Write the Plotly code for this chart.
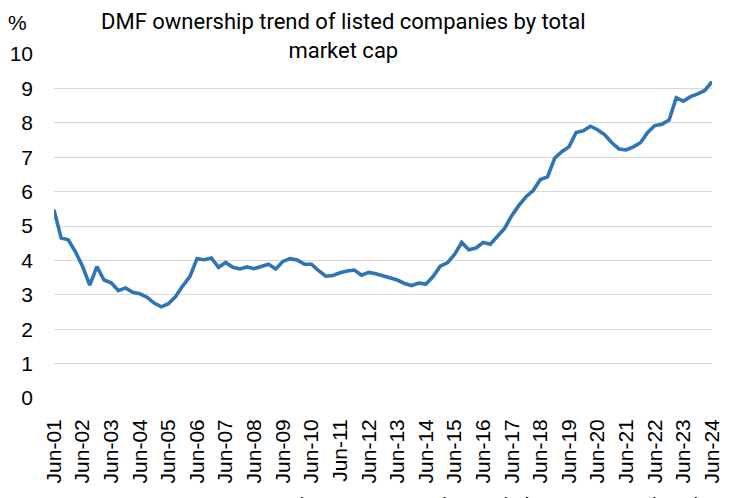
import plotly.graph_objects as go

months = ["Jun", "Sep", "Dec", "Mar"]
quarters = []
for yr in range(1, 25):
    for m in months:
        y = yr + 1 if m == "Mar" else yr
        quarters.append(f"{m}-{y:02d}")
quarters = quarters[:93]

ownership = [5.47, 4.65, 4.6, 4.25, 3.82, 3.28, 3.82, 3.43, 3.35, 3.12, 3.2, 3.07,
             3.03, 2.93, 2.76, 2.65, 2.74, 2.95, 3.26, 3.53, 4.05, 4.02, 4.07, 3.8,
             3.94, 3.8, 3.75, 3.81, 3.76, 3.83, 3.89, 3.75, 3.97, 4.05, 4.01, 3.89,
             3.89, 3.7, 3.54, 3.56, 3.64, 3.69, 3.72, 3.57, 3.65, 3.61, 3.55, 3.49,
             3.43, 3.33, 3.27, 3.34, 3.31, 3.53, 3.83, 3.93, 4.17, 4.52, 4.31, 4.36,
             4.52, 4.47, 4.71, 4.93, 5.3, 5.6, 5.85, 6.03, 6.35, 6.43, 6.97, 7.16,
             7.3, 7.72, 7.77, 7.9, 7.8, 7.65, 7.42, 7.24, 7.21, 7.3, 7.42, 7.72,
             7.92, 7.96, 8.08, 8.73, 8.63, 8.76, 8.84, 8.94, 9.2]

tick_labels = [q for q in quarters if q.startswith("Jun")]
y_ticks = list(range(0, 11))

title_text = "DMF ownership trend of listed companies by total<br>market cap"
source_text = ("Source: CMIE Prowess, NSE EPR, dEPR estimates; data includes companies listed "
               "on NSE and BSE")

fig = go.Figure()
fig.add_trace(go.Scatter(
    x=quarters, y=ownership, mode="lines",
    line=dict(color="#2E75B6", width=3.6),
    hoverinfo="x+y", showlegend=False,
))

font_title = "Roboto, Arial"
font_tick = "Liberation Sans, Arial"

fig.update_layout(
    width=734, height=498,
    margin=dict(l=46, r=30, t=46, b=108, autoexpand=False),
    paper_bgcolor="white", plot_bgcolor="white",
    font=dict(family=font_tick, color="#000000", size=20),
    xaxis=dict(
        type="category", range=[0, len(quarters) - 1],
        tickmode="array", tickvals=tick_labels, ticktext=tick_labels,
        tickangle=-90, showgrid=False, showline=False, ticks="",
        tickfont=dict(size=21, family=font_tick),
        zeroline=False, automargin=False, ticklabelstandoff=16,
    ),
    yaxis=dict(
        range=[0, 10], tickvals=y_ticks, showgrid=True, gridcolor="#D9D9D9",
        gridwidth=1.3, zeroline=False, showline=False, ticks="",
        tickfont=dict(size=21, family=font_tick),
        ticklabelstandoff=20, automargin=False,
    ),
    annotations=[
        dict(text=title_text, xref="paper", yref="paper", x=0.44, y=1.137,
             xanchor="center", yanchor="top", showarrow=False,
             font=dict(size=22, family=font_title, color="#000000")),
        dict(text="%", xref="paper", yref="paper", x=-0.038, y=1.131,
             xanchor="right", yanchor="top", showarrow=False,
             font=dict(size=21, family=font_tick, color="#000000")),
        dict(text=source_text, xref="paper", yref="paper", x=-0.068, y=-0.27,
             xanchor="left", yanchor="top", showarrow=False,
             font=dict(size=19, family=font_title, color="#000000")),
    ],
)

fig.write_html("out.html")
